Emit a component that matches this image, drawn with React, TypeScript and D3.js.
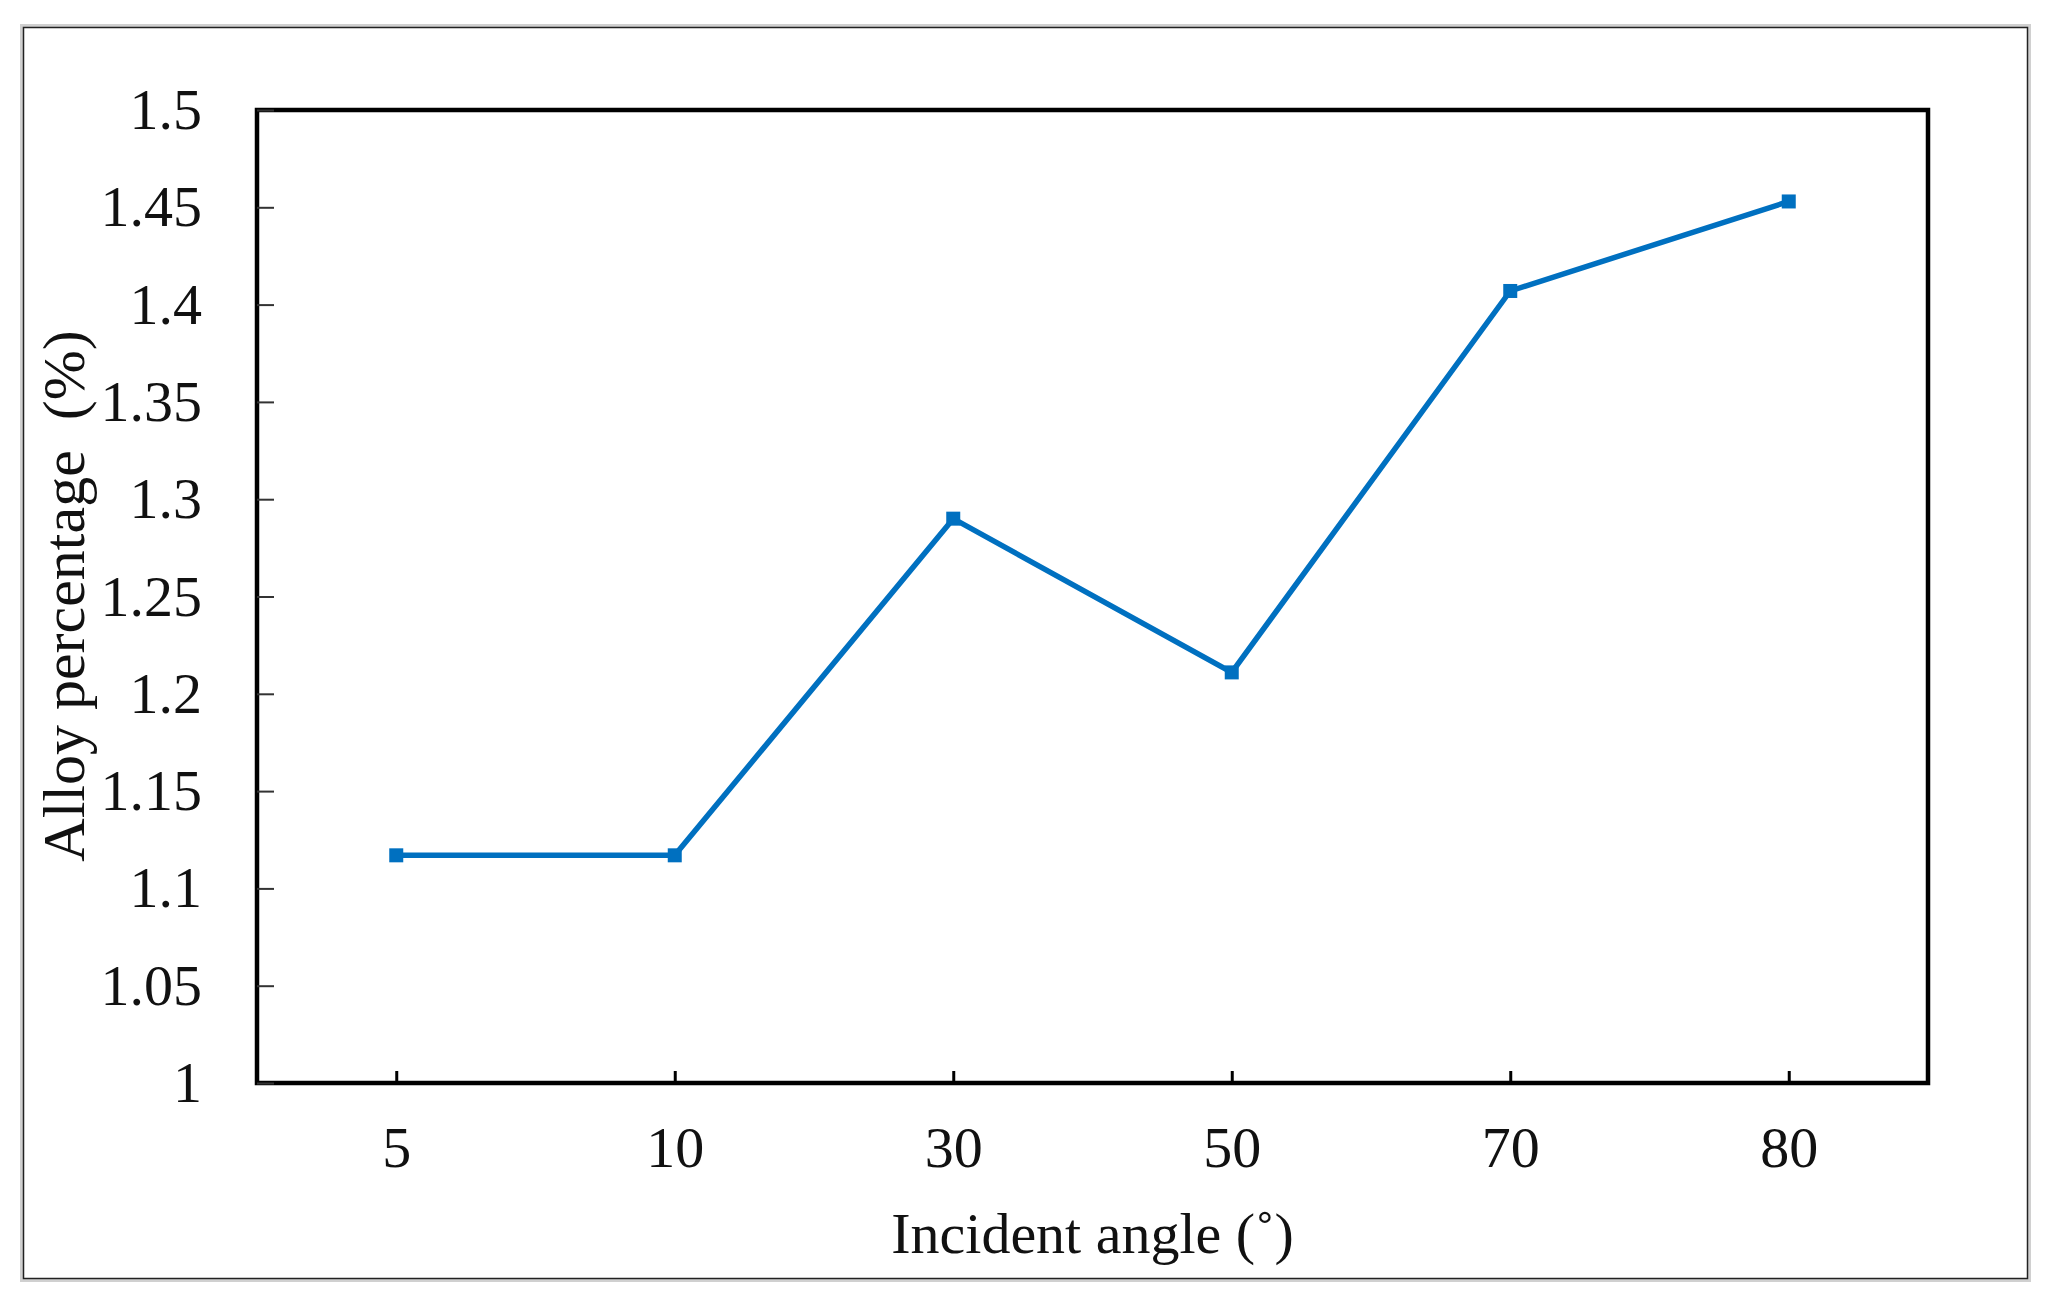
import React, { useEffect, useRef } from "react";
import * as d3 from "d3";

const angles = ["5", "10", "30", "50", "70", "80"];
const alloy = [1.117, 1.117, 1.29, 1.211, 1.407, 1.453];
const yTicks = [1, 1.05, 1.1, 1.15, 1.2, 1.25, 1.3, 1.35, 1.4, 1.45, 1.5];

const W = 2049;
const H = 1304;

export default function App() {
  const ref = useRef<SVGSVGElement>(null);

  useEffect(() => {
    const svg = d3.select(ref.current);
    svg.selectAll("*").remove();
    const margin = { left: 257, top: 110, right: 121, bottom: 221 };
    const innerW = W - margin.left - margin.right;
    const innerH = H - margin.top - margin.bottom;
    const font = "'Liberation Serif', 'Times New Roman', serif";

    // outer frame
    svg.append("rect").attr("x", 22).attr("y", 26).attr("width", 2007).attr("height", 1254)
      .attr("fill", "white").attr("stroke", "#d0d0d0").attr("stroke-width", 4);
    svg.append("rect").attr("x", 23.5).attr("y", 27.5).attr("width", 2004).attr("height", 1251)
      .attr("fill", "none").attr("stroke", "#222").attr("stroke-width", 1.5);

    const x = d3.scalePoint().domain(angles).range([0, innerW]).padding(0.5);
    const y = d3.scaleLinear().domain([1, 1.5]).range([innerH, 0]);

    const g = svg.append("g").attr("transform", `translate(${margin.left},${margin.top})`);

    g.append("rect").attr("width", innerW).attr("height", innerH)
      .attr("fill", "none").attr("stroke", "#000").attr("stroke-width", 4.5);

    const yAxis = d3.axisLeft(y).tickValues(yTicks).tickSize(-17).tickPadding(55)
      .tickFormat((d) => String(+d));
    const yG = g.append("g").call(yAxis);
    yG.select(".domain").remove();
    yG.selectAll("line").attr("stroke", "#333").attr("stroke-width", 2);
    yG.selectAll("text").attr("font-family", font).attr("font-size", 58).attr("fill", "#111");

    const xAxis = d3.axisBottom(x).tickSize(-12).tickPadding(43);
    const xG = g.append("g").attr("transform", `translate(0,${innerH})`).call(xAxis);
    xG.select(".domain").remove();
    xG.selectAll("line").attr("stroke", "#000").attr("stroke-width", 3);
    xG.selectAll("text").attr("font-family", font).attr("font-size", 58).attr("fill", "#111");

    const line = d3.line<number>().x((_, i) => x(angles[i])!).y((d) => y(d));
    g.append("path").datum(alloy).attr("d", line).attr("fill", "none")
      .attr("stroke", "#0070C0").attr("stroke-width", 5.5);

    g.selectAll(".m").data(alloy).enter().append("rect")
      .attr("x", (_, i) => x(angles[i])! - 7).attr("y", (d) => y(d) - 7)
      .attr("width", 14).attr("height", 14).attr("fill", "#0070C0");

    svg.append("text").text("Incident angle (˚)").attr("x", margin.left + innerW / 2)
      .attr("y", 1253).attr("text-anchor", "middle")
      .attr("font-family", font).attr("font-size", 58).attr("fill", "#111");

    svg.append("text").text("Alloy percentage\u00a0\u00a0(%)")
      .attr("transform", `translate(84,596) rotate(-90)`).attr("text-anchor", "middle")
      .attr("font-family", font).attr("font-size", 60).attr("fill", "#111");
  }, []);

  return <svg ref={ref} width={W} height={H} style={{ display: "block", margin: "-8px" }} />;
}
